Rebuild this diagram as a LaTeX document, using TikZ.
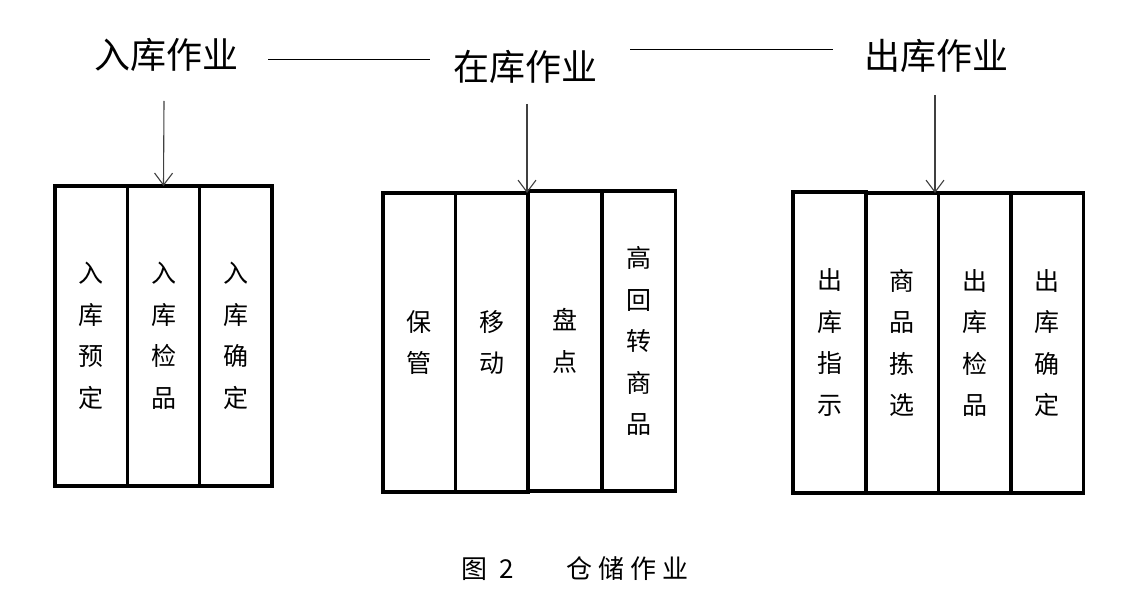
\documentclass[tikz,border=0pt]{standalone}
\usepackage{fontspec}
\setmainfont{Noto Sans CJK SC}
\usetikzlibrary{arrows.meta}
\begin{document}
\begin{tikzpicture}[x=1pt,y=-1pt,
 col/.style={draw,line width=3.2pt,inner sep=0pt,outer sep=0pt,align=center,font=\fontsize{25}{41.5}\selectfont},
 title/.style={inner sep=0pt,font=\fontsize{36}{36}\selectfont},
 arr/.style={draw=black!75,line width=1.1pt,-{Straight Barb[length=12pt,width=18pt,line width=1.1pt]}},
 link/.style={draw,line width=0.9pt},
 captext/.style={inner sep=0pt,font=\fontsize{26}{26}\selectfont}]
\useasboundingbox[fill=white] (0,0) rectangle (1146,604);
% titles
\node[title] (t1) at (166,55) {入库作业};
\node[title] (t2) at (525,67) {在库作业};
\node[title] (t3) at (936,56) {出库作业};
% links between titles
\coordinate (h1a) at (268,59); \coordinate (h1b) at (430,59);
\coordinate (h2a) at (630,49); \coordinate (h2b) at (833,49);
\draw[link] (h1a) -- (h1b);
\draw[link] (h2a) -- (h2b);
% left group
\node[col,minimum width=72.33pt,minimum height=300pt] (l1) at (91.2,336) {入\\库\\预\\定};
\node[col,minimum width=72.33pt,minimum height=300pt] (l2) at (163.5,336) {入\\库\\检\\品};
\node[col,minimum width=72.33pt,minimum height=300pt] (l3) at (235.8,336) {入\\库\\确\\定};
% middle group
\node[col,minimum width=72.5pt,minimum height=299pt] (m1) at (419.25,342.5) {保\\管};
\node[col,minimum width=72.5pt,minimum height=299pt] (m2) at (491.75,342.5) {移\\动};
\node[col,minimum width=74pt,minimum height=300pt] (m3) at (565,341) {盘\\点};
\node[col,minimum width=73.5pt,minimum height=300pt] (m4) at (638.75,341) {高\\回\\转\\商\\品};
% right group
\node[col,minimum width=73pt,minimum height=301pt] (r1) at (829.5,342.5) {出\\库\\指\\示};
\node[col,minimum width=72.5pt,minimum height=300pt] (r2) at (902.25,343) {商\\品\\拣\\选};
\node[col,minimum width=72.5pt,minimum height=300pt] (r3) at (974.75,343) {出\\库\\检\\品};
\node[col,minimum width=72.5pt,minimum height=300pt] (r4) at (1047.25,343) {出\\库\\确\\定};
% arrows
\coordinate (a1) at (164,101);
\coordinate (a2) at (527,104);
\coordinate (a3) at (935,95);
\draw[arr] (a1) -- (l2.north);
\draw[arr] (a2) -- ([xshift=-1pt]m2.north east);
\draw[arr] (a3) -- ([xshift=-3.5pt]r3.north west);
% caption
\node[captext] (caption) at (575,569) {图\hspace{12pt}2\hspace{52pt}仓\hspace{6pt}储\hspace{6pt}作\hspace{6pt}业};
\end{tikzpicture}
\end{document}
